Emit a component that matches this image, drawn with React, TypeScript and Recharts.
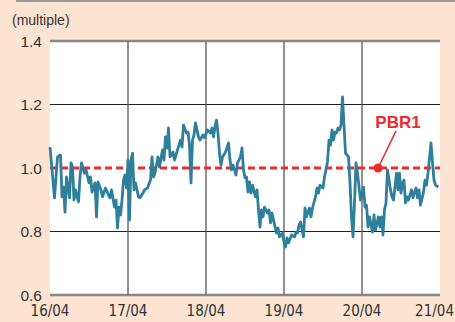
import {
  CartesianGrid,
  Line,
  LineChart,
  ReferenceDot,
  ReferenceLine,
  XAxis,
  YAxis,
} from "recharts";

// weekly PBR, week 0 = Apr 2016
const weeks = [
  // 16/04 - 17/04
  0, 3, 5, 7, 8, 9, 10, 11, 13, 14,
  15, 16, 17, 19, 20, 21, 23, 24, 26, 27,
  28, 30, 31, 32, 34, 35, 37, 39, 40, 41,
  43, 44, 45, 46, 47, 48, 49, 50, 51,
  // 17/04 - 18/04
  52, 53, 54, 55, 56, 57, 59, 60, 62, 63,
  65, 67, 68, 69, 70, 72, 73, 75, 76, 77,
  78, 79, 80, 82, 83, 85, 87, 88, 89, 91,
  92, 93, 94, 95, 96, 97, 99, 100, 102, 103,
  // 18/04 - 19/04
  105, 107, 108, 109, 110, 111, 112, 113, 114, 115,
  117, 119, 120, 121, 122, 124, 125, 127, 128, 129,
  130, 131, 132, 133, 134, 135, 137, 138, 139, 140,
  141, 142, 143, 145, 146, 147, 148, 149, 151, 152,
  153, 155,
  // 19/04 - 20/04
  156, 157, 158, 159, 161, 163, 164, 165, 166, 167,
  169, 170, 171, 173, 174, 175, 177, 178, 179, 180,
  182, 183, 185, 186, 187, 188, 189, 190, 191, 192,
  193, 194, 195, 196, 197, 199, 200, 201, 202, 203,
  204, 205, 207,
  // 20/04 - 21/04
  209, 210, 211, 212, 213, 215, 216, 217, 219, 220,
  221, 222, 223, 224, 225, 227, 228, 229, 231, 232,
  233, 234, 235, 236, 237, 238, 239, 241, 242, 243,
  244, 245, 246, 247, 249, 250, 251, 252, 254, 255,
  256, 257, 259,
];

const pbr = [
  1.066, 0.906, 1.035, 1.041, 0.909, 0.94, 0.861, 0.972, 0.906, 1.016,
  1.003, 0.899, 0.931, 0.893, 0.972, 1.016, 0.984, 0.994, 0.953, 0.972,
  0.924, 0.953, 0.846, 0.956, 0.931, 0.909, 0.937, 0.915, 0.906, 0.931,
  0.877, 0.899, 0.811, 0.877, 0.852, 0.899, 0.962, 0.978, 0.937,

  1.025, 0.836, 1.025, 1.047, 0.931, 0.953, 0.909, 0.906, 0.921, 0.931,
  0.937, 0.962, 1.035, 0.972, 0.984, 1.035, 1.003, 1.057, 1.025, 1.098,
  1.063, 1.126, 1.035, 1.05, 1.025, 1.057, 1.088, 1.066, 1.135, 1.11,
  1.113, 1.072, 0.953, 1.088, 1.104, 1.142, 1.098, 1.088, 1.104, 1.095,

  1.12, 1.11, 1.126, 1.098, 1.129, 1.151, 1.11, 1.047, 1.009, 1.035,
  1.05, 1.079, 1.025, 0.994, 1.009, 0.978, 1.016, 1.035, 1.063, 0.994,
  0.969, 0.972, 0.924, 0.956, 0.921, 0.946, 0.909, 0.931, 0.868, 0.814,
  0.868, 0.846, 0.877, 0.858, 0.868, 0.827, 0.858, 0.836, 0.795, 0.811,
  0.783, 0.795,

  0.767, 0.751, 0.78, 0.764, 0.789, 0.783, 0.798, 0.795, 0.82, 0.83,
  0.783, 0.874, 0.846, 0.874, 0.846, 0.874, 0.909, 0.937, 0.921, 0.946,
  0.937, 0.972, 1.019, 1.088, 1.072, 1.12, 1.088, 1.113, 1.11, 1.126,
  1.12, 1.135, 1.224, 1.135, 1.047, 1.035, 0.953, 0.846, 0.783, 0.89,
  1.016, 0.984, 0.899,

  0.94, 0.877, 0.883, 0.814, 0.846, 0.798, 0.852, 0.805, 0.846, 0.814,
  0.846, 0.789, 0.868, 0.89, 0.994, 0.931, 0.909, 0.899, 0.984, 0.931,
  0.984, 0.921, 0.953, 0.962, 0.89, 0.909, 0.899, 0.931, 0.906, 0.924,
  0.937, 0.906, 0.931, 0.883, 0.924, 0.962, 0.946, 0.984, 1.079, 1.016,
  0.962, 0.946, 0.94,
];

const xTicks = [0, 52, 104, 156, 208, 260];
const xTickLabels = ["16/04", "17/04", "18/04", "19/04", "20/04", "21/04"];
const yTicks = [0.6, 0.8, 1.0, 1.2, 1.4];

const PBR_ONE = 1.0;
const calloutDot = { week: 218.7, value: 1.0 };
const calloutEnd = { week: 230.7, value: 1.117 };
const calloutText = { week: 232, value: 1.145 };

const data = weeks.map((w, i) => ({ week: w, pbr: pbr[i] }));

const RED = "#ee2a2f";
const TEAL = "#2e7f9b";
const BG = "#fde4d2";
const CHART_W = 455;

// the last date label is right-aligned so it stays inside the frame
function DateTick(props: any) {
  const { x, y, payload } = props;
  const idx = xTicks.indexOf(payload.value);
  const isLast = idx === xTicks.length - 1;
  return (
    <text
      x={isLast ? CHART_W - 1 : x}
      y={y}
      dy={13}
      textAnchor={isLast ? "end" : "middle"}
      fill="#333"
      fontSize={15}
      fontFamily="'Liberation Sans Narrow', 'DejaVu Sans Condensed', sans-serif"
    >
      {xTickLabels[idx] ?? ""}
    </text>
  );
}

export default function App() {
  return (
    <div
      style={{
        position: "absolute",
        left: 0,
        top: 0,
        width: CHART_W,
        height: 322,
        background: BG,
        overflow: "hidden",
        fontFamily: "'Liberation Sans', Arial, sans-serif",
      }}
    >
      <div
        style={{
          position: "absolute",
          left: 16,
          right: 0,
          top: 0,
          height: 2,
          background: "#9a9a9a",
        }}
      />
      <div
        style={{
          position: "absolute",
          left: 12,
          top: 12,
          fontSize: 14,
          color: "#333",
        }}
      >
        (multiple)
      </div>
      <LineChart
        width={CHART_W}
        height={322}
        data={data}
        margin={{ top: 41, right: 15, bottom: 0, left: 0 }}
      >
        <CartesianGrid
          vertical={false}
          horizontalValues={[0.8, 1.2]}
          stroke="#222"
          strokeWidth={1}
          fill="#fff"
        />
        {xTicks.slice(1, -1).map((t) => (
          <ReferenceLine key={t} x={t} stroke="#555" strokeWidth={1.3} />
        ))}
        <ReferenceLine y={1.4} stroke="#8c8580" strokeWidth={2.5} />
        <XAxis
          type="number"
          dataKey="week"
          domain={[0, 260]}
          ticks={xTicks}
          interval={0}
          height={27}
          stroke="#8c8580"
          strokeWidth={2.5}
          tickLine={false}
          tickMargin={2}
          tick={<DateTick />}
        />
        <YAxis
          type="number"
          domain={[0.6, 1.4]}
          ticks={yTicks}
          tickFormatter={(v: number) => v.toFixed(1)}
          width={50}
          axisLine={false}
          tickLine={false}
          tick={{ fill: "#333", fontSize: 15.5, fontFamily: "'Liberation Sans', sans-serif" }}
        />
        <ReferenceLine
          y={PBR_ONE}
          stroke={RED}
          strokeWidth={3}
          strokeDasharray="7 4"
        />
        <Line
          type="linear"
          dataKey="pbr"
          stroke={TEAL}
          strokeWidth={2.8}
          strokeLinejoin="round"
          dot={false}
          isAnimationActive={false}
        />
        <ReferenceLine
          segment={[
            { x: calloutDot.week, y: calloutDot.value },
            { x: calloutEnd.week, y: calloutEnd.value },
          ]}
          stroke={RED}
          strokeWidth={1.5}
        />
        <ReferenceDot
          x={calloutDot.week}
          y={calloutDot.value}
          r={4.5}
          fill={RED}
          stroke="none"
        />
        <ReferenceDot
          x={calloutText.week}
          y={calloutText.value}
          r={0}
          stroke="none"
          label={{
            value: "PBR1",
            position: "center",
            fill: RED,
            fontSize: 17,
            fontWeight: "bold",
            fontFamily: "'Liberation Sans', sans-serif",
          }}
        />
      </LineChart>
    </div>
  );
}
